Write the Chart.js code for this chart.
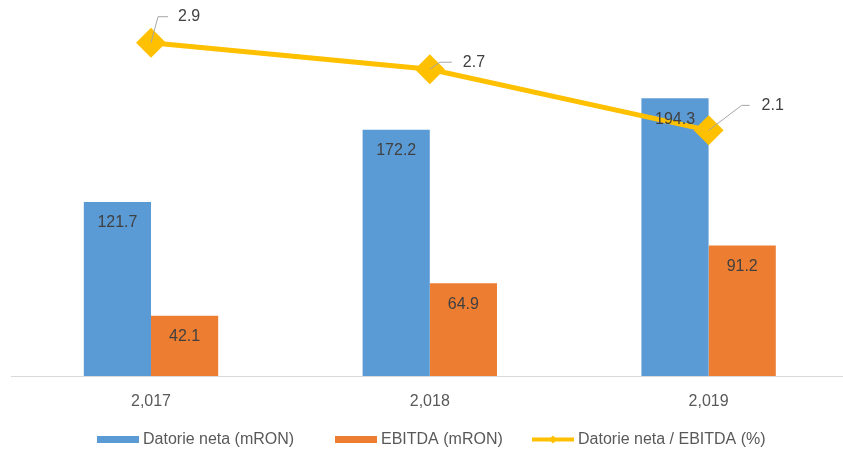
<!DOCTYPE html>
<html>
<head>
<meta charset="utf-8">
<script src="https://cdn.jsdelivr.net/npm/chart.js@4"></script>
<style>
  html, body { margin: 0; background: #fff; overflow: hidden; }
  #wrap { width: 848px; height: 449px; position: relative; }
</style>
</head>
<body>
<div id="wrap"><canvas id="myChart"></canvas></div>
<script>
/* DATA */
const years = ['2,017', '2,018', '2,019'];
const datorieNeta = [121.7, 172.2, 194.3];
const ebitda = [42.1, 64.9, 91.2];
const ratio = [2.89, 2.66, 2.13];

// ratio label placement relative to each point: leader elbow, leader end, text x
const ratioLabelPos = [
  { ex: 7, ey: -26, lx: 17, tx: 27 },
  { ex: 10, ey: -7, lx: 22, tx: 33 },
  { ex: 33, ey: -25, lx: 41, tx: 53 },
];

// legend items start x (swatch left)
const legendX = [97, 335, 532];

const FONT = "'Liberation Sans', Arial, sans-serif";
const TEXT = '#404040';
const GREY = '#595959';
const BLUE = '#5B9BD5';
const ORANGE = '#ED7D31';
const GOLD = '#FFC000';

/* labels + legend */
const labelPlugin = {
  id: 'labels',
  afterDatasetsDraw(chart) {
    const ctx = chart.ctx;
    ctx.save();
    ctx.font = '16px ' + FONT;
    ctx.fillStyle = TEXT;
    ctx.textBaseline = 'middle';

    [0, 1].forEach(di => {
      const meta = chart.getDatasetMeta(di);
      meta.data.forEach((bar, i) => {
        ctx.textAlign = 'center';
        ctx.fillText(chart.data.datasets[di].data[i].toFixed(1), bar.x, bar.y + 21);
      });
    });

    const lineMeta = chart.getDatasetMeta(2);
    lineMeta.data.forEach((pt, i) => {
      const p = ratioLabelPos[i];
      ctx.strokeStyle = '#A6A6A6';
      ctx.lineWidth = 1;
      ctx.beginPath();
      ctx.moveTo(pt.x, pt.y);
      ctx.lineTo(pt.x + p.ex, pt.y + p.ey);
      ctx.lineTo(pt.x + p.lx, pt.y + p.ey);
      ctx.stroke();
      ctx.textAlign = 'left';
      ctx.fillText(ratio[i].toFixed(1), pt.x + p.tx, pt.y + p.ey);
    });
    ctx.restore();
  },
  afterDraw(chart) {
    const ctx = chart.ctx;
    const y = 439.5;
    ctx.save();
    ctx.font = '16px ' + FONT;
    ctx.fillStyle = GREY;
    ctx.textBaseline = 'middle';
    ctx.textAlign = 'left';
    chart.data.datasets.forEach((ds, i) => {
      const x = legendX[i];
      if (ds.type === 'bar') {
        ctx.fillStyle = ds.backgroundColor;
        ctx.fillRect(x, y - 3.5, 42, 7);
      } else {
        ctx.strokeStyle = GOLD;
        ctx.lineWidth = 4;
        ctx.beginPath();
        ctx.moveTo(x, y);
        ctx.lineTo(x + 42, y);
        ctx.stroke();
        ctx.fillStyle = GOLD;
        ctx.beginPath();
        ctx.moveTo(x + 21 - 4, y);
        ctx.lineTo(x + 21, y - 4);
        ctx.lineTo(x + 21 + 4, y);
        ctx.lineTo(x + 21, y + 4);
        ctx.closePath();
        ctx.fill();
      }
      ctx.fillStyle = GREY;
      ctx.fillText(ds.label, x + 46, y);
    });
    ctx.restore();
  }
};

const data = {
  labels: years,
  datasets: [
    {
      type: 'bar',
      label: 'Datorie neta (mRON)',
      data: datorieNeta,
      backgroundColor: BLUE,
      yAxisID: 'y',
      order: 1,
      barPercentage: 1,
      categoryPercentage: 0.482,
    },
    {
      type: 'bar',
      label: 'EBITDA (mRON)',
      data: ebitda,
      backgroundColor: ORANGE,
      yAxisID: 'y',
      order: 2,
      barPercentage: 1,
      categoryPercentage: 0.482,
    },
    {
      type: 'line',
      label: 'Datorie neta / EBITDA (%)',
      data: ratio,
      borderColor: GOLD,
      backgroundColor: GOLD,
      borderWidth: 5,
      pointStyle: 'rectRot',
      pointRadius: 15,
      pointHoverRadius: 15,
      pointBorderWidth: 0,
      yAxisID: 'y2',
      order: 0,
      tension: 0,
    },
  ],
};

const config = {
  data,
  options: {
    responsive: true,
    maintainAspectRatio: false,
    animation: false,
    layout: { autoPadding: false, padding: { left: 11.6, right: 0, top: 18.5, bottom: 38 } },
    scales: {
      x: {
        grid: { display: false, drawTicks: false },
        border: { display: true, color: '#D9D9D9', width: 1 },
        ticks: { color: GREY, font: { family: FONT, size: 16 }, padding: 15.5 },
        afterFit(scale) { scale.height = 35; },
      },
      y: { display: false, min: 0, max: 250 },
      y2: { display: false, min: 0, max: 3.1, position: 'right' },
    },
    plugins: {
      tooltip: { enabled: false },
      legend: { display: false },
    },
  },
  plugins: [labelPlugin],
};

document.addEventListener('DOMContentLoaded', () => {
  const canvas = document.getElementById('myChart');
  new Chart(canvas.getContext('2d'), config);
});
</script>
</body>
</html>
